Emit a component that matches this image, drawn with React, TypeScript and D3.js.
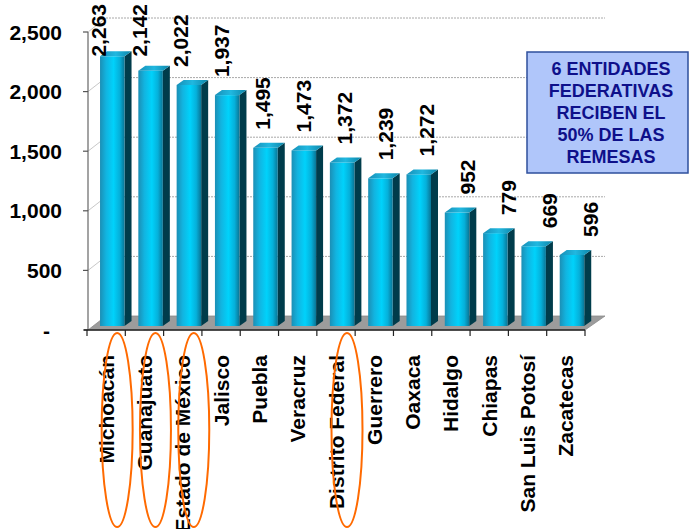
import React, { useEffect, useRef } from 'react';
import * as d3 from 'd3';

const width = 689;
const height = 529;

const states = [
  'Michoacán',
  'Guanajuato',
  'Estado de México',
  'Jalisco',
  'Puebla',
  'Veracruz',
  'Distrito Federal',
  'Guerrero',
  'Oaxaca',
  'Hidalgo',
  'Chiapas',
  'San Luis Potosí',
  'Zacatecas',
];
const remesas = [2263, 2142, 2022, 1937, 1495, 1473, 1372, 1239, 1272, 952, 779, 669, 596];
const yTicks = [0, 500, 1000, 1500, 2000, 2500];
const highlighted = ['Michoacán', 'Guanajuato', 'Estado de México', 'Distrito Federal'];
const noteLines = ['6 ENTIDADES', 'FEDERATIVAS', 'RECIBEN EL', '50% DE LAS', 'REMESAS'];

const font = "'Liberation Sans', Arial, sans-serif";

const App: React.FC = () => {
  const ref = useRef<SVGSVGElement>(null);

  useEffect(() => {
    if (!ref.current) return;
    const svg = d3.select(ref.current);
    svg.selectAll('*').remove();

    // 3D box: front plane and back wall offset
    const frontY = 330;
    const depthX = 18;
    const depthY = -14;
    const x0 = 88;
    const x1 = 585;

    const x = d3.scaleBand<string>().domain(states).range([87, 585]).padding(0);
    const yFront = d3.scaleLinear().domain([0, 2500]).range([frontY, 32]);
    const yBack = (v: number) => yFront(v) + depthY;
    const barBase = frontY - 4;
    const yBar = (v: number) => yFront(v) - (frontY - barBase);

    const defs = svg.append('defs');
    const grad = defs
      .append('linearGradient')
      .attr('id', 'barFront')
      .attr('x1', 0)
      .attr('x2', 1)
      .attr('y1', 0)
      .attr('y2', 0);
    [
      [0, '#1b8fb5'],
      [0.25, '#12b4e0'],
      [0.55, '#00d2fb'],
      [0.8, '#05b0da'],
      [1, '#0a7595'],
    ].forEach(([o, c]) => grad.append('stop').attr('offset', o as number).attr('stop-color', c as string));
    const gradTop = defs
      .append('linearGradient')
      .attr('id', 'barTop')
      .attr('x1', 0)
      .attr('x2', 1)
      .attr('y1', 0)
      .attr('y2', 0);
    [
      [0, '#1790b8'],
      [0.5, '#20b8e0'],
      [1, '#0d85a8'],
    ].forEach(([o, c]) => gradTop.append('stop').attr('offset', o as number).attr('stop-color', c as string));

    // floor
    svg
      .append('polygon')
      .attr(
        'points',
        [
          [x0, frontY],
          [x1, frontY],
          [x1 + depthX + 2, frontY + depthY],
          [x0 + depthX, frontY + depthY],
        ]
          .map(p => p.join(','))
          .join(' ')
      )
      .attr('fill', '#9c9c9c')
      .attr('stroke', '#8a8a8a')
      .attr('stroke-width', 0.8);

    // back wall gridlines and left wall lines
    yTicks
      .filter(t => t > 0)
      .forEach(t => {
        svg
          .append('line')
          .attr('x1', x0 + depthX)
          .attr('x2', x1 + depthX + 2)
          .attr('y1', yBack(t))
          .attr('y2', yBack(t))
          .attr('stroke', '#a8a8a8')
          .attr('stroke-width', 1)
          .attr('stroke-dasharray', '2,1');
        svg
          .append('line')
          .attr('x1', x0)
          .attr('x2', x0 + depthX)
          .attr('y1', yFront(t))
          .attr('y2', yBack(t))
          .attr('stroke', '#c8c8c8')
          .attr('stroke-width', 1);
      });

    // bars
    const bw = x.bandwidth();
    const faceW = bw * 0.64;
    const sideX = 7;
    const sideY = -5;
    const bars = svg
      .append('g')
      .selectAll('g')
      .data(states.map((s, i) => ({ s, v: remesas[i], i })))
      .enter()
      .append('g');

    bars.each(function (d) {
      const g = d3.select(this);
      const left = (x(d.s) as number) + bw * 0.34;
      const right = left + faceW;
      const top = yBar(d.v);
      g.append('polygon')
        .attr(
          'points',
          [
            [right, top],
            [right + sideX, top + sideY],
            [right + sideX, barBase + sideY],
            [right, barBase],
          ]
            .map(p => p.join(','))
            .join(' ')
        )
        .attr('fill', '#003c4b');
      g.append('rect')
        .attr('x', left)
        .attr('y', top)
        .attr('width', faceW)
        .attr('height', barBase - top)
        .attr('fill', 'url(#barFront)');
      g.append('polygon')
        .attr(
          'points',
          [
            [left, top],
            [right, top],
            [right + sideX, top + sideY],
            [left + sideX, top + sideY],
          ]
            .map(p => p.join(','))
            .join(' ')
        )
        .attr('fill', 'url(#barTop)');
    });

    // value labels
    bars.each(function (d) {
      const g = d3.select(this);
      const cx = (x(d.s) as number) + bw * 0.34 + faceW / 2 + (d.i - 6) * 2.7 + 2;
      const t = g
        .append('text')
        .attr('font-family', font)
        .attr('font-weight', 'bold')
        .attr('font-size', 21)
        .attr('fill', '#000')
        .attr('dy', '0.36em')
        .text(d3.format(',')(d.v));
      const len = (t.node() as SVGTextElement).getComputedTextLength();
      const by = Math.max(yBar(d.v) - 18, 4 + len);
      t.attr('transform', `translate(${cx},${by}) rotate(-90)`);
    });

    // y axis
    svg
      .append('line')
      .attr('x1', x0)
      .attr('x2', x0)
      .attr('y1', yFront(2500))
      .attr('y2', frontY)
      .attr('stroke', '#666')
      .attr('stroke-width', 1.2);
    yTicks.forEach(t => {
      svg
        .append('line')
        .attr('x1', x0 - 5)
        .attr('x2', x0)
        .attr('y1', yFront(t))
        .attr('y2', yFront(t))
        .attr('stroke', '#555')
        .attr('stroke-width', 1.2);
      svg
        .append('text')
        .attr('x', t === 0 ? 50 : 62)
        .attr('y', yFront(t))
        .attr('dy', '0.36em')
        .attr('text-anchor', 'end')
        .attr('font-family', font)
        .attr('font-weight', 'bold')
        .attr('font-size', 21)
        .attr('fill', '#000')
        .text(t === 0 ? '-' : d3.format(',')(t));
    });

    // x axis
    svg
      .append('line')
      .attr('x1', x0 - 4)
      .attr('x2', x1)
      .attr('y1', frontY)
      .attr('y2', frontY)
      .attr('stroke', '#222')
      .attr('stroke-width', 1.5);
    [...states.map(s => x(s) as number), x1].forEach(px => {
      svg
        .append('line')
        .attr('x1', px)
        .attr('x2', px)
        .attr('y1', frontY)
        .attr('y2', frontY + 6)
        .attr('stroke', '#222')
        .attr('stroke-width', 1.2);
    });
    states.forEach(s => {
      svg
        .append('text')
        .attr('transform', `translate(${(x(s) as number) + bw / 2},355) rotate(-90)`)
        .attr('dy', '0.36em')
        .attr('text-anchor', 'end')
        .attr('font-family', font)
        .attr('font-weight', 'bold')
        .attr('font-size', 21)
        .attr('fill', '#000')
        .text(s);
    });

    // highlight ellipses
    highlighted.forEach(s => {
      svg
        .append('ellipse')
        .attr('cx', (x(s) as number) + bw / 2 + 11)
        .attr('cy', 430)
        .attr('rx', 15.5)
        .attr('ry', 97)
        .attr('fill', 'none')
        .attr('stroke', '#ff6a00')
        .attr('stroke-width', 2);
    });

    // note box
    const box = svg.append('g');
    box
      .append('rect')
      .attr('x', 527)
      .attr('y', 52)
      .attr('width', 161)
      .attr('height', 121)
      .attr('fill', '#b0c6fa')
      .attr('stroke', '#2e4f9c')
      .attr('stroke-width', 1.5);
    noteLines.forEach((line, i) => {
      box
        .append('text')
        .attr('x', 611)
        .attr('y', 74.5 + i * 22.2)
        .attr('text-anchor', 'middle')
        .attr('font-family', font)
        .attr('font-weight', 'bold')
        .attr('font-size', 18)
        .attr('fill', '#0e108a')
        .text(line);
    });
  }, []);

  return (
    <svg
      ref={ref}
      width={width}
      height={height}
      style={{ position: 'absolute', left: 0, top: 0, background: '#fff' }}
    />
  );
};

export default App;
